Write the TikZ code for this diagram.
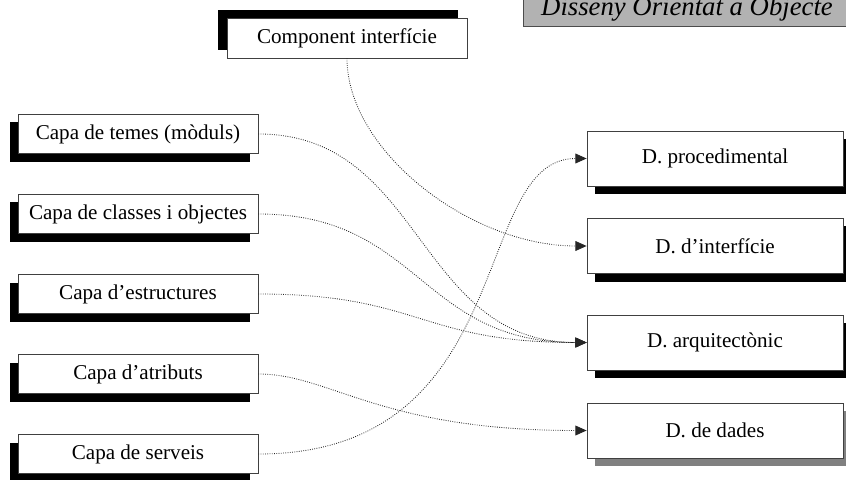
\documentclass[tikz,border=0pt]{standalone}
\usepackage{fontspec}
\setmainfont{Liberation Serif}
\usetikzlibrary{arrows.meta, shadows, positioning}

\begin{document}
\begin{tikzpicture}[
  x=0.025cm, y=-0.025cm,
  box/.style={rectangle, draw=black!75, line width=0.5pt, fill=white,
    align=center, font=\fontsize{15}{18}\selectfont, inner sep=0pt},
  capa/.style={box, minimum width=6cm, minimum height=0.975cm,
    drop shadow={shadow xshift=-0.2cm, shadow yshift=-0.2cm, opacity=1, fill=black}},
  compbox/.style={box, minimum width=6cm, minimum height=1cm,
    drop shadow={shadow xshift=-0.225cm, shadow yshift=0.2cm, opacity=1, fill=black}},
  disseny/.style={box, minimum width=6.4cm, minimum height=1.375cm,
    drop shadow={shadow xshift=0.2cm, shadow yshift=-0.2cm, opacity=1, fill=#1}},
  disseny/.default=black,
  titlebox/.style={rectangle, fill=gray!60, draw=black!70, line width=0.6pt,
    inner sep=0pt, text height=30pt, text depth=7.5pt, minimum width=8.2cm,
    font=\fontsize{19}{22}\selectfont\itshape},
  link/.style={densely dotted, black!85, line width=0.6pt,
    -{Triangle[length=8pt, width=7pt]}},
]
%% Frame: pixel units, y pointing down
\useasboundingbox (0,0) rectangle (846,479);
\clip (0,0) rectangle (846,479);
\def\xl{138}   % x centre of the layer column
\def\xr{715}   % x centre of the design column

%% ── Title banner ────────────────────────────────────────────────────────────
\node[titlebox, anchor=base] (title) at (687,15.5) {Disseny Orientat a Objecte};

%% ── Interface component ─────────────────────────────────────────────────────
\node[compbox] (comp) at (347,38) {Component interfície};

%% ── Layers (left column) ────────────────────────────────────────────────────
\node[capa] (temes)   at (\xl,134) {Capa de temes (mòduls)};
\node[capa] (classes) at (\xl,214) {Capa de classes i objectes};
\node[capa] (estruct) at (\xl,294) {Capa d’estructures};
\node[capa] (atrib)   at (\xl,374) {Capa d’atributs};
\node[capa] (serveis) at (\xl,454) {Capa de serveis};

%% ── Design kinds (right column) ─────────────────────────────────────────────
\node[disseny]      (dproc)  at (\xr,158.5) {D. procedimental};
\node[disseny]      (dinter) at (\xr,246)   {D. d’interfície};
\node[disseny]      (darq)   at (\xr,342.5) {D. arquitectònic};
\node[disseny=gray] (ddades) at (\xr,430.5) {D. de dades};

%% ── Mappings ────────────────────────────────────────────────────────────────
\draw[link] (comp.south)    .. controls +(0,92)  and +(-117,0) .. (dinter.west);
\draw[link] (temes.east)    .. controls +(165,0) and +(-170,0) .. (darq.west);
\draw[link] (classes.east)  .. controls +(162,0) and +(-167,0) .. (darq.west);
\draw[link] (estruct.east)  .. controls +(162,0) and +(-167,0) .. (darq.west);
\draw[link] (atrib.east)    .. controls +(72,0)  and +(-207,0) .. (ddades.west);
\draw[link] (serveis.east)  .. controls +(262,0) and +(-117,0) .. (dproc.west);

\end{tikzpicture}
\end{document}
